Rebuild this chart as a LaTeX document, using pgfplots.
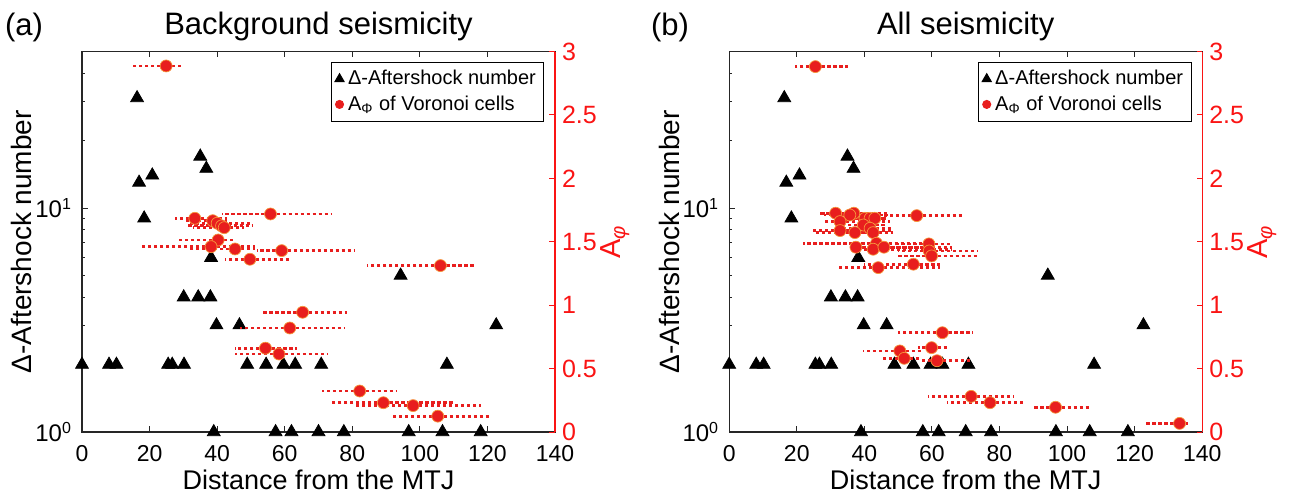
\documentclass[border=0pt]{standalone}
\usepackage{fontspec}
\setmainfont{Liberation Sans}
\usepackage{pgfplots}
\pgfplotsset{compat=1.18}
\usepackage{pgfplotstable}
\definecolor{myred}{RGB}{232,30,30}
\definecolor{edgeor}{RGB}{245,150,60}
\definecolor{axred}{RGB}{250,20,20}

\pgfplotstableread{
x y
0 2
8 2
10.2 2
25.5 2
26.7 2
30.2 2
48.9 2
54.5 2
59.6 2
63.1 2
70.8 2
108 2
39.8 3
46.6 3
122.6 3
30.1 4
34.4 4
38.0 4
38.2 6
94.3 5
39 1
57.3 1
62 1
70 1
77.5 1
96.7 1
106.7 1
118 1
16.3 31
16.9 13
20.8 14
35 17
36.8 15
18.4 9
}\tri

\pgfplotstableread{
x y em ep
24.9 2.886 9.9 4.9
33.4 1.685 5.9 9.4
38.7 1.666 8.7 4.3
40.0 1.646 8.5 10.2
41.3 1.625 9.8 8.9
42.1 1.611 9.1 5.9
55.8 1.719 14.5 18.1
40.3 1.514 11.8 4.5
38.2 1.461 20.5 13.0
45.3 1.443 13.8 5.9
59.1 1.430 7.4 21.7
49.7 1.362 7.4 12.3
106.1 1.312 21.8 9.8
65.3 0.944 11.6 13.0
61.5 0.820 14.7 16.3
54.3 0.661 9.0 9.2
58.3 0.615 13.0 14.6
82.2 0.323 11.3 10.9
89.2 0.231 15.5 20.8
98.0 0.208 17.0 20.0
105.3 0.125 13.7 15.1
}\redA

\pgfplotstableread{
x y em ep
25.5 2.881 5.9 9.7
31.5 1.725 4.6 13.5
36.9 1.725 8.9 10.1
35.7 1.711 7.7 11.3
55.5 1.706 15.5 13.3
32.8 1.659 4.9 14.8
40.2 1.685 8.4 6.4
41.7 1.685 9.9 4.9
43.1 1.685 11.3 3.5
39.7 1.632 7.9 6.9
41.7 1.606 9.9 6.9
32.8 1.588 7.9 15.8
37.2 1.572 12.3 11.4
42.6 1.572 9.6 6.0
43.6 1.488 21.7 16.4
37.5 1.457 0.8 22.5
42.6 1.441 5.9 23.2
45.8 1.457 9.1 20.0
59.1 1.483 9.1 6.7
59.2 1.427 9.2 14.5
59.9 1.388 9.9 13.8
44.1 1.296 11.8 18.3
54.5 1.323 14.5 7.9
63.1 0.783 13.1 9.1
50.5 0.639 10.8 6.9
59.9 0.665 3.9 4.5
51.8 0.581 6.2 5.2
61.5 0.562 4.5 9.8
71.6 0.281 12.7 12.7
77.2 0.231 12.8 9.7
96.6 0.195 6.3 10.0
133.3 0.068 10.5 2.6
}\redB

\begin{document}
\begin{tikzpicture}
\useasboundingbox (-41pt,-33pt) rectangle (606pt,216pt);
% ---------- panel (a), left axis
\begin{axis}[
    scale only axis, width=236.5pt, height=190.25pt, clip=false,
    xmin=0, xmax=140, ymode=log, ymin=1, ymax=50,
    xtick={0,20,40,60,80,100,120,140}, ytick={1,10},
    yticklabels={10\textsuperscript{0},10\textsuperscript{1}},
    minor ytick={2,3,4,5,6,7,8,9,20,30,40},
    tick align=inside, xtick pos=both, ytick pos=left,
    major tick length=2.8pt, minor tick length=1.6pt,
    axis line style={line width=0.6pt, black!85},
    tick style={black!85, line width=0.5pt},
    xticklabel style={yshift=-3pt, font=\fontsize{11.5}{13}\selectfont},
    yticklabel style={xshift=-1.5pt, font=\fontsize{12}{14}\selectfont},
    /pgf/number format/assume math mode=true,
    xlabel={Distance from the MTJ}, ylabel={Δ-Aftershock number},
    xlabel style={at={(axis description cs:0.5,-0.1248)}, anchor=center, font=\fontsize{13.5}{16}\selectfont},
    ylabel style={at={(axis description cs:-0.127,0.5)}, anchor=center, font=\fontsize{14}{16}\selectfont},
    title={Background seismicity},
    title style={at={(axis description cs:0.5,1.0342)}, anchor=center, font=\fontsize{15.5}{18}\selectfont},
    legend style={at={(axis description cs:1,1)}, anchor=north east, xshift=-5.3pt, yshift=-5.1pt,
      font=\fontsize{10}{12}\selectfont, draw=black, line width=0.5pt, inner sep=2pt},
    legend cell align=left,
  ]
  \addplot[only marks, mark=triangle*, mark size=3.7pt, black, forget plot] table[x=x, y=y] {\tri};
  \addlegendimage{only marks, mark=triangle*, mark size=2.6pt, black}
  \addlegendentry{Δ-Aftershock number}
  \addlegendimage{only marks, mark=*, mark size=2pt, myred}
  \addlegendentry{A\textsubscript{Φ} of Voronoi cells}
  \node[font=\fontsize{15.5}{18}\selectfont] at (axis description cs:-0.1226,1.064) {(a)};
\end{axis}
% ---------- panel (a), right axis
\begin{axis}[
    scale only axis, width=236.5pt, height=190.25pt, clip=false,
    xmin=0, xmax=140, ymin=0, ymax=3,
    axis x line=none, axis y line*=right,
    ytick={0,0.5,1,1.5,2,2.5,3},
    tick align=inside, major tick length=2.8pt,
    y axis line style={-, axred, line width=0.6pt},
    tick style={axred, line width=0.5pt},
    yticklabel style={axred, font=\fontsize{12.5}{14}\selectfont},
    /pgf/number format/assume math mode=true,
    ylabel={A\textsubscript{\textit{φ}}},
    ylabel style={at={(axis description cs:1.1268,0.5)}, anchor=center, axred, font=\fontsize{14.5}{17}\selectfont},
  ]
  \addplot[only marks, mark=none, forget plot,
    error bars/.cd, x dir=both, x explicit, error mark=none,
    error bar style={draw=myred, line width=1.4pt, dash pattern=on 1.6pt off 1.4pt}]
    table[x=x, y=y, x error plus=ep, x error minus=em] {\redA};
  \addplot[only marks, mark=*, mark size=3pt,
    mark options={fill=myred, draw=edgeor, line width=0.35pt}]
    table[x=x, y=y] {\redA};
\end{axis}
% ---------- panel (b), left axis
\begin{axis}[at={(323.6pt,0pt)},
    scale only axis, width=236.5pt, height=190.25pt, clip=false,
    xmin=0, xmax=140, ymode=log, ymin=1, ymax=50,
    xtick={0,20,40,60,80,100,120,140}, ytick={1,10},
    yticklabels={10\textsuperscript{0},10\textsuperscript{1}},
    minor ytick={2,3,4,5,6,7,8,9,20,30,40},
    tick align=inside, xtick pos=both, ytick pos=left,
    major tick length=2.8pt, minor tick length=1.6pt,
    axis line style={line width=0.6pt, black!85},
    tick style={black!85, line width=0.5pt},
    xticklabel style={yshift=-3pt, font=\fontsize{11.5}{13}\selectfont},
    yticklabel style={xshift=-1.5pt, font=\fontsize{12}{14}\selectfont},
    /pgf/number format/assume math mode=true,
    xlabel={Distance from the MTJ}, ylabel={Δ-Aftershock number},
    xlabel style={at={(axis description cs:0.5,-0.1248)}, anchor=center, font=\fontsize{13.5}{16}\selectfont},
    ylabel style={at={(axis description cs:-0.127,0.5)}, anchor=center, font=\fontsize{14}{16}\selectfont},
    title={All seismicity},
    title style={at={(axis description cs:0.5,1.0342)}, anchor=center, font=\fontsize{15.5}{18}\selectfont},
    legend style={at={(axis description cs:1,1)}, anchor=north east, xshift=-5.3pt, yshift=-5.1pt,
      font=\fontsize{10}{12}\selectfont, draw=black, line width=0.5pt, inner sep=2pt},
    legend cell align=left,
  ]
  \addplot[only marks, mark=triangle*, mark size=3.7pt, black, forget plot] table[x=x, y=y] {\tri};
  \addlegendimage{only marks, mark=triangle*, mark size=2.6pt, black}
  \addlegendentry{Δ-Aftershock number}
  \addlegendimage{only marks, mark=*, mark size=2pt, myred}
  \addlegendentry{A\textsubscript{Φ} of Voronoi cells}
  \node[font=\fontsize{15.5}{18}\selectfont] at (axis description cs:-0.125,1.064) {(b)};
\end{axis}
% ---------- panel (b), right axis
\begin{axis}[at={(323.6pt,0pt)},
    scale only axis, width=236.5pt, height=190.25pt, clip=false,
    xmin=0, xmax=140, ymin=0, ymax=3,
    axis x line=none, axis y line*=right,
    ytick={0,0.5,1,1.5,2,2.5,3},
    tick align=inside, major tick length=2.8pt,
    y axis line style={-, axred, line width=0.6pt},
    tick style={axred, line width=0.5pt},
    yticklabel style={axred, font=\fontsize{12.5}{14}\selectfont},
    /pgf/number format/assume math mode=true,
    ylabel={A\textsubscript{\textit{φ}}},
    ylabel style={at={(axis description cs:1.1268,0.5)}, anchor=center, axred, font=\fontsize{14.5}{17}\selectfont},
  ]
  \addplot[only marks, mark=none, forget plot,
    error bars/.cd, x dir=both, x explicit, error mark=none,
    error bar style={draw=myred, line width=1.4pt, dash pattern=on 1.6pt off 1.4pt}]
    table[x=x, y=y, x error plus=ep, x error minus=em] {\redB};
  \addplot[only marks, mark=*, mark size=3pt,
    mark options={fill=myred, draw=edgeor, line width=0.35pt}]
    table[x=x, y=y] {\redB};
\end{axis}
\end{tikzpicture}
\end{document}
